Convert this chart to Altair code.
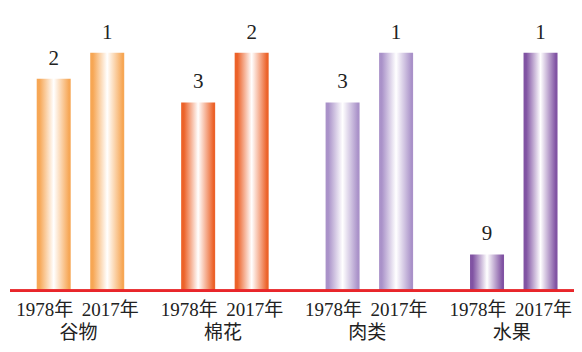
import altair as alt
import pandas as pd

categories = ["谷物", "棉花", "肉类", "水果"]
years = ["1978年", "2017年"]
rank_1978 = [2, 3, 3, 9]
rank_2017 = [1, 2, 1, 1]
height_1978 = [8.9, 7.9, 7.9, 1.5]
height_2017 = [10, 10, 10, 10]
edge_colors = ["#F6A24C", "#EB5A1E", "#A58CC6", "#7A4A9E"]

rows = []
for i, c in enumerate(categories):
    rows.append({"cat": c, "year": years[0], "rank": rank_1978[i], "h": height_1978[i]})
    rows.append({"cat": c, "year": years[1], "rank": rank_2017[i], "h": height_2017[i]})
df = pd.DataFrame(rows)

W, H = 566, 282

xs = alt.X("cat:N", sort=categories, axis=None,
           scale=alt.Scale(range=[0.25, 578], paddingInner=0, paddingOuter=0))
xo = alt.XOffset("year:N", sort=years,
                 scale=alt.Scale(paddingInner=0.3645, paddingOuter=0.532))
ys = alt.Y("h:Q", axis=None, scale=alt.Scale(domain=[0, 11.88], nice=False))

base = alt.Chart(df)

layers = []
for c, col in zip(categories, edge_colors):
    grad = alt.Gradient(
        gradient="linear", x1=0, x2=1, y1=0, y2=0,
        stops=[alt.GradientStop(color=col, offset=0),
               alt.GradientStop(color=col, offset=0.08),
               alt.GradientStop(color="#FFFFFF", offset=0.5),
               alt.GradientStop(color=col, offset=0.95),
               alt.GradientStop(color=col, offset=1)])
    layers.append(
        base.transform_filter(alt.datum.cat == c)
        .mark_bar(color=grad, opacity=0.95)
        .encode(x=xs, xOffset=xo, y=ys)
    )

num_font = "Liberation Serif, Noto Sans CJK SC"

rank_text = base.mark_text(baseline="bottom", dy=-10, fontSize=21, font=num_font,
                           color="#222222").encode(x=xs, xOffset=xo, y=ys, text="rank:Q")

year_1978 = base.transform_filter(alt.datum.year == years[0]).mark_text(
    baseline="middle", fontSize=19, font=num_font, color="#222222", dx=-9
).encode(x=xs, xOffset=xo, y=alt.value(H + 20), text="year:N")
year_2017 = base.transform_filter(alt.datum.year == years[1]).mark_text(
    baseline="middle", fontSize=19, font=num_font, color="#222222", dx=3
).encode(x=xs, xOffset=xo, y=alt.value(H + 20), text="year:N")

cat_text = base.transform_filter(alt.datum.year == years[0]).mark_text(
    baseline="middle", fontSize=19, font="Noto Sans CJK SC", color="#222222", dx=-2
).encode(x=xs, y=alt.value(H + 43), text="cat:N")

red_line = alt.Chart(df).mark_rule(color="#E8262B", strokeWidth=2).encode(
    x=alt.value(2), x2=alt.value(W), y=alt.value(H + 0.7))

chart = alt.layer(*layers, red_line, rank_text, year_1978, year_2017, cat_text).properties(
    width=W, height=H,
    autosize=alt.AutoSizeParams(type="none"),
    padding={"left": 0, "top": 0, "right": 0, "bottom": 54},
).configure_view(stroke=None)

chart.save("out.html", embed_options={"renderer": "svg", "actions": False})
